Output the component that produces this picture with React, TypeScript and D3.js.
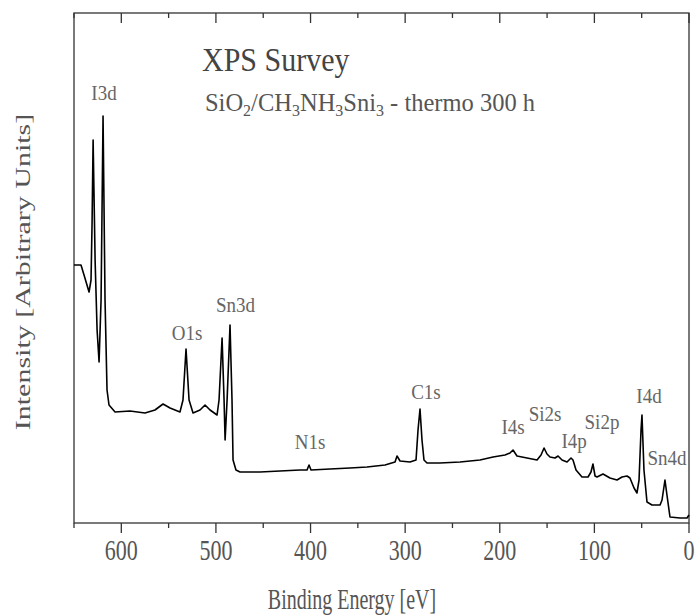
import React from "react";
import * as d3 from "d3";

// Binding energy (eV) and intensity (arbitrary units)
const energies = [
  650, 642.6, 639.4, 634.1, 632, 630.9, 629.8, 627.7, 625.6, 623.5, 621.4, 619.3,
  617.2, 615.1, 613.0, 606.6, 590.8, 575, 564.4, 555.9, 548.5, 538, 534.8, 531.6,
  528.4, 524.2, 516.8, 511.5, 506.2, 498.8, 496.7, 493.5, 491.4, 490.3, 488.2,
  485.1, 483, 481.9, 478.8, 474.5, 453.4, 432.3, 411.1, 403.7, 401.6, 399.5,
  379.4, 358.3, 340.3, 321.3, 310.7, 308.6, 305.4, 294.9, 288.5, 286.4, 284.3,
  282.2, 280.1, 276.9, 263.2, 242, 220.9, 207.1, 194.5, 189.2, 186, 181.8, 171.2,
  160.6, 156.4, 153.2, 150.1, 146.9, 141.6, 138.4, 134.2, 128.9, 124.7, 122.6,
  119.4, 113.1, 106.7, 103.6, 101.5, 99.3, 97.2, 90.9, 83.5, 76.1, 70.8, 65.5,
  62.4, 58.1, 55, 52.8, 50.7, 49.7, 47.6, 44.4, 39.1, 30.6, 28.5, 25.4, 23.3,
  20.1, 9.5, 2.1, 0,
];
const intensities = [
  258, 258, 248, 231, 243, 300, 383, 263, 193, 161, 223, 407,
  223, 133, 118, 111, 112, 110, 113, 119, 115, 111, 123, 174,
  123, 110, 113, 118, 113, 108, 123, 185, 123, 83, 123,
  198, 123, 63, 53, 51, 51, 52, 53, 53, 58, 53,
  54, 55, 56, 58, 61, 67, 62, 61, 63, 93, 114,
  83, 63, 60, 60, 61, 63, 66, 68, 70, 73, 67, 65,
  63, 68, 75, 69, 66, 65, 67, 63, 61, 65, 63,
  53, 46, 46, 51, 59, 47, 46, 49, 45, 43, 46, 47,
  45, 35, 30, 43, 93, 108, 53, 21, 18, 18, 23, 43, 28,
  6, 5, 5, 8,
];

const xTicks = [600, 500, 400, 300, 200, 100, 0];
const xMinorTicks = [650, 550, 450, 350, 250, 150, 50];

const peakLabels = ["I3d", "O1s", "Sn3d", "N1s", "C1s", "I4s", "Si2s", "I4p", "Si2p", "I4d", "Sn4d"];
const labelEnergies = [618.3, 530.5, 479.3, 400.6, 278, 186, 152.2, 121.5, 92, 42.3, 23.3];
const labelIntensities = [423, 183, 211, 74, 124, 89, 102, 75, 94, 120, 58];

const W = 696;
const H = 615;
const M = { left: 74, right: 689, top: 13, bottom: 523 };

export default function App() {
  const x = d3.scaleLinear().domain([650, 0]).range([M.left, M.right]);
  const y = d3.scaleLinear().domain([0, 510]).range([M.bottom, M.top]);
  const pts: [number, number][] = energies.map((e, i) => [e, intensities[i]]);
  const line = d3
    .line<[number, number]>()
    .x((d) => x(d[0]))
    .y((d) => y(d[1]));
  const font = "'Liberation Serif', 'Times New Roman', serif";
  const axisColor = "#333";
  const textColor = "#555";

  return (
    <svg
      width={W}
      height={H}
      style={{ position: "absolute", left: 0, top: 0, background: "#fff" }}
      fontFamily={font}
    >
      {/* frame */}
      <rect
        x={M.left}
        y={M.top}
        width={M.right - M.left}
        height={M.bottom - M.top}
        fill="none"
        stroke={axisColor}
        strokeWidth={1.3}
      />
      {/* bottom ticks (outward) */}
      {xTicks.map((t) => (
        <line key={"b" + t} x1={x(t)} x2={x(t)} y1={M.bottom} y2={M.bottom + 10} stroke={axisColor} strokeWidth={1.3} />
      ))}
      {xMinorTicks.map((t) => (
        <line key={"bm" + t} x1={x(t)} x2={x(t)} y1={M.bottom} y2={M.bottom + 5} stroke={axisColor} strokeWidth={1.3} />
      ))}
      {/* top ticks (inward) */}
      {xTicks.map((t) => (
        <line key={"t" + t} x1={x(t)} x2={x(t)} y1={M.top} y2={M.top + 10} stroke={axisColor} strokeWidth={1.3} />
      ))}
      {xMinorTicks.map((t) => (
        <line key={"tm" + t} x1={x(t)} x2={x(t)} y1={M.top} y2={M.top + 5} stroke={axisColor} strokeWidth={1.3} />
      ))}
      {/* tick labels */}
      {xTicks.map((t) => (
        <text
          key={"l" + t}
          transform={`translate(${x(t)},${560}) scale(1,1.35)`}
          textAnchor="middle"
          fontSize={22}
          fill={textColor}
        >
          {t}
        </text>
      ))}
      {/* axis titles */}
      <text
        transform={`translate(${352},${609}) scale(1,1.45)`}
        textAnchor="middle"
        fontSize={20}
        fill={textColor}
      >
        Binding Energy [eV]
      </text>
      <text
        transform={`translate(${30},${272}) rotate(-90) scale(1.5,1)`}
        textAnchor="middle"
        fontSize={20}
        fill={textColor}
      >
        Intensity [Arbitrary Units]
      </text>
      {/* spectrum */}
      <path d={line(pts) || ""} fill="none" stroke="#000" strokeWidth={1.6} strokeLinejoin="round" />
      {/* title */}
      <text transform={`translate(${202},${71}) scale(1,1.15)`} fontSize={30} fill="#444">
        XPS Survey
      </text>
      <text transform={`translate(${205},${111}) scale(1,1.05)`} fontSize={24.5} fill={textColor}>
        SiO<tspan fontSize={16} dy={5}>2</tspan>
        <tspan dy={-5}>/CH</tspan>
        <tspan fontSize={16} dy={5}>3</tspan>
        <tspan dy={-5}>NH</tspan>
        <tspan fontSize={16} dy={5}>3</tspan>
        <tspan dy={-5}>Sni</tspan>
        <tspan fontSize={16} dy={5}>3</tspan>
        <tspan dy={-5}> - thermo 300 h</tspan>
      </text>
      {/* peak labels */}
      {peakLabels.map((p, i) => (
        <text
          key={p}
          transform={`translate(${x(labelEnergies[i])},${y(labelIntensities[i])}) scale(1,1.15)`}
          textAnchor="middle"
          fontSize={19}
          fill="#666"
        >
          {p}
        </text>
      ))}
    </svg>
  );
}
